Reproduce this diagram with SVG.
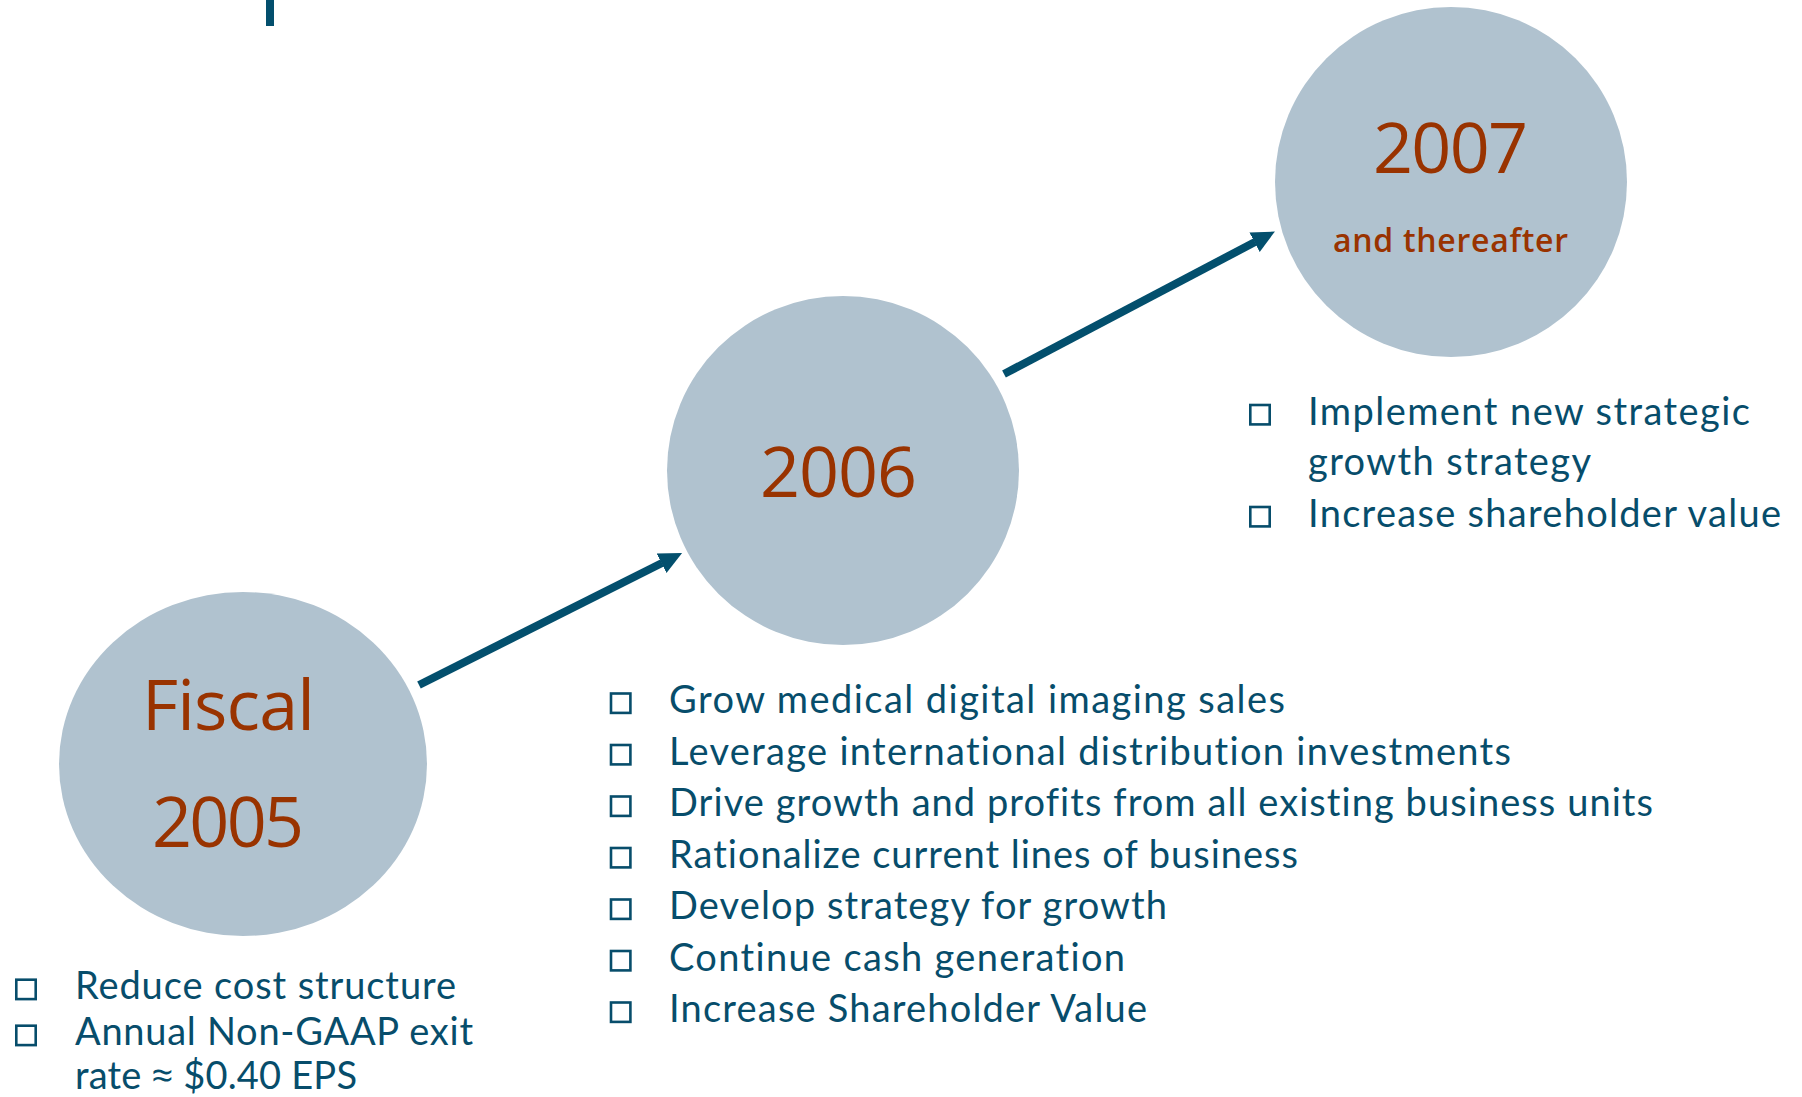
<svg xmlns="http://www.w3.org/2000/svg" width="1802" height="1097" viewBox="0 0 1802 1097">
  <defs>
    <style>
      .disc { fill: #b0c2cf; }
      .year { font-family: "Open Sans", "Noto Sans", "Liberation Sans", sans-serif; font-size: 70px; fill: #993300; text-anchor: middle; }
      .sub { font-family: "Open Sans", "Noto Sans", "Liberation Sans", sans-serif; font-size: 32px; font-weight: 600; fill: #993300; text-anchor: middle; }
      .item { font-family: Lato, "Open Sans", "Liberation Sans", sans-serif; font-size: 38px; fill: #074d6b; font-variant-ligatures: none; font-feature-settings: "liga" 0, "dlig" 0; }
      .sym { font-family: "Open Sans", "Noto Sans", sans-serif; }
      .box { fill: none; stroke: #074d6b; stroke-width: 2.6; }
      .link { fill: none; stroke: #034f6d; stroke-width: 8; }
    </style>
    <marker id="head" markerUnits="userSpaceOnUse" viewBox="0 -12 24 24" refX="0.5" refY="0" markerWidth="24" markerHeight="24" orient="auto">
      <path d="M0,-11 L23,0 L0,11 z" fill="#034f6d"/>
    </marker>
  </defs>

  <rect width="1802" height="1097" fill="#ffffff"/>

  <!-- short rule at the top edge -->
  <rect x="266" y="0" width="8" height="26" fill="#034f6d"/>

  <!-- connectors -->
  <g id="connectors">
    <line class="link" x1="419" y1="685" x2="662" y2="563" marker-end="url(#head)"/>
    <line class="link" x1="1004" y1="374" x2="1255" y2="242" marker-end="url(#head)"/>
  </g>

  <!-- Fiscal 2005 -->
  <g id="node-2005">
    <ellipse class="disc" cx="243" cy="764" rx="184" ry="172"/>
    <text class="year" x="228.5" y="730" textLength="173">Fiscal</text>
    <text class="year" x="228" y="847" textLength="152">2005</text>
    <rect class="box" x="16.3" y="979.7" width="19.4" height="19.4"/>
    <rect class="box" x="16.3" y="1025.7" width="19.4" height="19.4"/>
    <text class="item" x="75" y="999" textLength="381">Reduce cost structure</text>
    <text class="item" x="75" y="1045" textLength="398">Annual Non-GAAP exit</text>
    <text class="item" x="75" y="1089" textLength="282">rate <tspan class="sym">≈</tspan> $0.40 EPS</text>
  </g>

  <!-- 2006 -->
  <g id="node-2006">
    <ellipse class="disc" cx="843" cy="470.5" rx="176" ry="174.5"/>
    <text class="year" x="838.5" y="497" textLength="157">2006</text>
    <g id="list-2006">
      <rect class="box" x="611" y="693.5" width="19.4" height="19.4"/>
      <rect class="box" x="611" y="745" width="19.4" height="19.4"/>
      <rect class="box" x="611" y="796.5" width="19.4" height="19.4"/>
      <rect class="box" x="611" y="848" width="19.4" height="19.4"/>
      <rect class="box" x="611" y="899.5" width="19.4" height="19.4"/>
      <rect class="box" x="611" y="951" width="19.4" height="19.4"/>
      <rect class="box" x="611" y="1002.5" width="19.4" height="19.4"/>
      <text class="item" x="669" y="713" textLength="616">Grow medical digital imaging sales</text>
      <text class="item" x="669" y="764.5" textLength="842">Leverage international distribution investments</text>
      <text class="item" x="669" y="816" textLength="984">Drive growth and profits from all existing business units</text>
      <text class="item" x="669" y="867.5" textLength="629">Rationalize current lines of business</text>
      <text class="item" x="669" y="919" textLength="498">Develop strategy for growth</text>
      <text class="item" x="669" y="970.5" textLength="456">Continue cash generation</text>
      <text class="item" x="669" y="1022" textLength="478">Increase Shareholder Value</text>
    </g>
  </g>

  <!-- 2007 and thereafter -->
  <g id="node-2007">
    <ellipse class="disc" cx="1451" cy="182" rx="176" ry="175"/>
    <text class="year" x="1450.5" y="173" textLength="155">2007</text>
    <text class="sub" x="1450.5" y="252" textLength="235">and thereafter</text>
    <rect class="box" x="1250.3" y="405" width="19.4" height="19.4"/>
    <rect class="box" x="1250.3" y="507" width="19.4" height="19.4"/>
    <text class="item" x="1308" y="425" textLength="442">Implement new strategic</text>
    <text class="item" x="1308" y="475" textLength="283">growth strategy</text>
    <text class="item" x="1308" y="527" textLength="473">Increase shareholder value</text>
  </g>
</svg>
